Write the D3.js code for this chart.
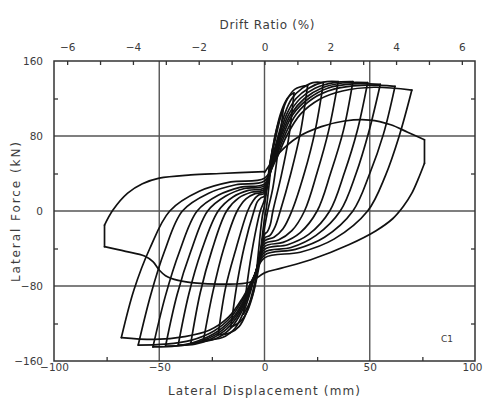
<!DOCTYPE html>
<html>
<head>
<meta charset="utf-8">
<script src="https://cdn.jsdelivr.net/npm/d3@7"></script>
<style>
  body { margin: 0; background: #fff; }
  svg { display: block; }
  text { font-family: "DejaVu Sans", sans-serif; fill: #3c3c3c; }
</style>
</head>
<body>
<script>
// hysteresis cycles, [lateral displacement (mm), lateral force (kN)]
var cycle1 = [[-4,-70],[-2.5,-35],[-1,-5],[0,6],[1.5,30],[3,55],[4,68],[2.5,35],[1,5],[0,-8],[-1.5,-35],[-3,-58],[-4,-70]];
var cycle2 = [[-10,-110],[-7.5,-65],[-4.5,-25],[-2,0],[0,12],[2.5,45],[5.5,85],[9,110],[6.5,65],[4,25],[1.5,0],[0,-18],[-2.5,-52],[-6,-92],[-10,-110]];
var cycle3 = [[-16,-124],[-13,-77],[-9.5,-37],[-5,0],[-3.4,10],[-1.7,14],[0,16],[2.5,50],[5,80],[7.5,103],[10,117],[12,123],[14,126],[11.5,78],[8,38],[4,0],[2.7,-15],[1.4,-22],[0,-25],[-2.5,-58],[-5,-85],[-8,-106],[-11.5,-118],[-16,-124]];
var cycle4 = [[-22,-132],[-18.5,-82],[-13.5,-40],[-8,0],[-5.4,11],[-2.8,17],[0,19],[3,55],[5.5,80],[8,103],[11,120],[14.5,130],[20.5,134],[17,83],[12.5,40],[7.5,0],[5,-17],[2.6,-26],[0,-29],[-3,-60],[-5.5,-85],[-8.5,-108],[-12,-123],[-16.5,-130],[-22,-132]];
var cycle5 = [[-29,-138],[-24.5,-86],[-19.5,-41],[-13,0],[-8.8,13],[-4.5,18.5],[0,21],[3.5,55],[6.5,80],[9.5,103],[13,120],[18,131],[23,137],[28,137],[24,85],[19,41],[13,0],[8.8,-19],[4.5,-28],[0,-32],[-3.5,-60],[-6.5,-85],[-10,-108],[-14,-125],[-20,-135],[-29,-138]];
var cycle6 = [[-35,-141],[-30.5,-87],[-25,-42],[-18,0],[-12.2,14],[-6.3,20],[0,23],[3.8,55],[7,80],[10.5,103],[15,120],[21,131],[28,137.5],[35,138],[30.5,86],[25,41],[19,0],[13,-21],[6.6,-31],[0,-35],[-3.8,-62],[-7,-86],[-11,-108],[-16,-125],[-23,-136],[-35,-141]];
var cycle7 = [[-41,-143],[-36,-89],[-30,-43],[-22,0],[-15,15],[-7.7,22],[0,25],[4,55],[7.5,80],[11.5,103],[17,120],[24,131],[33,137],[42,138],[37.5,86],[31.5,41],[25,0],[17,-23],[8.8,-33.5],[0,-38],[-4,-64],[-7.5,-87],[-12,-109],[-18,-126],[-26,-137],[-33,-142],[-41,-143]];
var cycle8 = [[-47,-144],[-41.5,-89],[-35,-43],[-27,0],[-18.4,16],[-9.5,24],[0,27],[4.3,55],[8,80],[12.5,103],[19,120],[27,131],[37,136.5],[49,137],[44,85],[38,41],[31,0],[21,-25],[11,-36],[0,-41],[-4.3,-66],[-8,-88],[-13,-110],[-20,-127],[-29,-138],[-38,-143],[-47,-144]];
var cycle9 = [[-53,-145],[-47,-90],[-40.5,-44],[-32,0],[-21.8,17],[-11.2,25.5],[0,29],[4.6,55],[8.7,80],[13.5,103],[21,120],[30,131],[42,135.5],[55,135],[49.5,84],[43.5,40],[36,0],[24.5,-26],[12.6,-39],[0,-44],[-4.6,-68],[-8.7,-90],[-14,-111],[-22,-128],[-32,-139],[-42,-144],[-53,-145]];
var cycle10 = [[-60,-143],[-54,-89],[-47.5,-43],[-39,0],[-26.5,19],[-13.6,28],[0,32],[5,55],[9.5,80],[15,103],[23,120],[33,130],[46,134],[62,133],[56.5,82],[50,40],[42,0],[28.5,-28],[14.7,-41],[0,-47],[-5,-70],[-9.5,-91],[-15.5,-112],[-24,-128],[-35,-138],[-47,-142],[-60,-143]];
var cycle11 = [[-68,-135],[-62,-84],[-54.5,-40],[-45,0],[-31,21],[-16,31],[0,35],[5.5,55],[10.5,80],[17,103],[26,119],[37,128],[52,132],[70,129],[64,80],[57.5,38],[49,0],[33,-30],[17,-44],[0,-50],[-5.5,-72],[-10.5,-93],[-17,-113],[-26,-127],[-38,-134],[-52,-137],[-68,-135]];
var finalCycle = [[0,41],[7,62],[16,79],[27,90],[38,96],[50,97],[60,92],[68,84],[76,76],[76,51],[73,34],[70,19],[66,5],[61,-8],[53,-21],[40,-36],[22,-52],[8,-61],[0,-66],[-7,-76],[-20,-78],[-32,-77],[-41,-74],[-47,-69],[-50,-63],[-53,-54],[-57,-48],[-66,-43],[-76,-38],[-76,-15],[-72,1],[-65,19],[-58,29],[-50,35],[-35,38.5],[-21,40],[0,42]];

var cycles = [cycle1, cycle2, cycle3, cycle4, cycle5, cycle6, cycle7, cycle8, cycle9, cycle10, cycle11, finalCycle];

var dispTicks = [-100, -50, 0, 50, 100];
var dispMinor = [-75, -25, 25, 75];
var forceTicks = [160, 80, 0, -80, -160];
var forceMinor = [120, 40, -40, -120];
var driftTicks = [-6, -4, -2, 0, 2, 4, 6];
var driftMinor = [-6, -5, -4, -3, -2, -1, 0, 1, 2, 3, 4, 5, 6];
var gridDisp = [-50, 0, 50];
var gridForce = [80, 0, -80];

var W = 484, H = 404;
var svg = d3.select('body').append('svg').attr('width', W).attr('height', H);

var x = d3.scaleLinear().domain([-100, 100]).range([54, 475]);
var y = d3.scaleLinear().domain([-160, 160]).range([361, 61]);
var drift = d3.scaleLinear().domain([-6.4, 6.4]).range([54, 475]);

// grid
svg.append('g').selectAll('line').data(gridDisp).enter().append('line')
  .attr('x1', function (d) { return x(d); }).attr('x2', function (d) { return x(d); })
  .attr('y1', y(160)).attr('y2', y(-160))
  .attr('stroke', '#555').attr('stroke-width', 1.4);
svg.append('g').selectAll('line').data(gridForce).enter().append('line')
  .attr('x1', x(-100)).attr('x2', x(100))
  .attr('y1', function (d) { return y(d); }).attr('y2', function (d) { return y(d); })
  .attr('stroke', '#555').attr('stroke-width', 1.4);

// split a cycle where the displacement reverses so the peaks stay sharp
function splitAtReversals(pts) {
  var segs = [], cur = [pts[0]];
  for (var i = 1; i < pts.length; i++) {
    cur.push(pts[i]);
    if (i < pts.length - 1) {
      var a = Math.sign(pts[i][0] - pts[i - 1][0]);
      var b = Math.sign(pts[i + 1][0] - pts[i][0]);
      if (a !== b) { segs.push(cur); cur = [pts[i]]; }
    }
  }
  segs.push(cur);
  return segs;
}

var line = d3.line()
  .x(function (d) { return x(d[0]); })
  .y(function (d) { return y(d[1]); })
  .curve(d3.curveCatmullRom.alpha(0.5));

var loops = svg.append('g')
  .attr('fill', 'none').attr('stroke', '#111').attr('stroke-width', 1.7)
  .attr('stroke-linejoin', 'round').attr('stroke-linecap', 'round');
cycles.forEach(function (c) {
  splitAtReversals(c).forEach(function (seg) {
    loops.append('path').attr('d', line(seg));
  });
});

// frame
svg.append('rect')
  .attr('x', x(-100)).attr('y', y(160))
  .attr('width', x(100) - x(-100)).attr('height', y(-160) - y(160))
  .attr('fill', 'none').attr('stroke', '#333').attr('stroke-width', 1.5);

// inward ticks
function cleanTicks(g) { g.select('.domain').remove(); g.selectAll('line').attr('stroke', '#333').attr('stroke-width', 1.3); }
svg.append('g').attr('transform', 'translate(0,' + y(-160) + ')')
  .call(d3.axisBottom(x).tickValues(dispMinor).tickSize(-4).tickFormat(''))
  .call(cleanTicks);
svg.append('g').attr('transform', 'translate(' + x(-100) + ',0)')
  .call(d3.axisLeft(y).tickValues(forceMinor).tickSize(-4).tickFormat(''))
  .call(cleanTicks);
svg.append('g').attr('transform', 'translate(' + x(100) + ',0)')
  .call(d3.axisRight(y).tickValues(forceMinor).tickSize(-4).tickFormat(''))
  .call(cleanTicks);
svg.append('g').attr('transform', 'translate(0,' + y(160) + ')')
  .call(d3.axisTop(drift).tickValues(driftMinor).tickSize(-4).tickFormat(''))
  .call(cleanTicks);

// tick labels
function labelStyle(g) {
  g.select('.domain').remove();
  g.selectAll('text').attr('fill', '#3c3c3c').style('font-size', '10.5px')
    .style('font-family', '"DejaVu Sans", sans-serif');
}
svg.append('g').attr('transform', 'translate(0,' + y(-160) + ')')
  .call(d3.axisBottom(x).tickValues(dispTicks).tickSize(0).tickPadding(3))
  .call(labelStyle)
  .selectAll('text').filter(function (d) { return d === 100; }).attr('dx', -3);
svg.append('g').attr('transform', 'translate(' + x(-100) + ',0)')
  .call(d3.axisLeft(y).tickValues(forceTicks).tickSize(0).tickPadding(11))
  .call(labelStyle);
svg.append('g').attr('transform', 'translate(0,' + y(160) + ')')
  .call(d3.axisTop(drift).tickValues(driftTicks).tickSize(0).tickPadding(10))
  .call(labelStyle);

// titles
svg.append('text').attr('x', 267).attr('y', 29).attr('text-anchor', 'middle')
  .attr('textLength', 95).style('font-size', '12px').text('Drift Ratio (%)');
svg.append('text').attr('x', 264).attr('y', 395).attr('text-anchor', 'middle')
  .attr('textLength', 192).style('font-size', '12px').text('Lateral Displacement (mm)');
svg.append('text').attr('transform', 'translate(20,212) rotate(-90)').attr('text-anchor', 'middle')
  .attr('textLength', 140).style('font-size', '12px').text('Lateral Force (kN)');
svg.append('text').attr('x', 447).attr('y', 342).attr('text-anchor', 'middle')
  .style('font-size', '9px').text('C1');
</script>
</body>
</html>
